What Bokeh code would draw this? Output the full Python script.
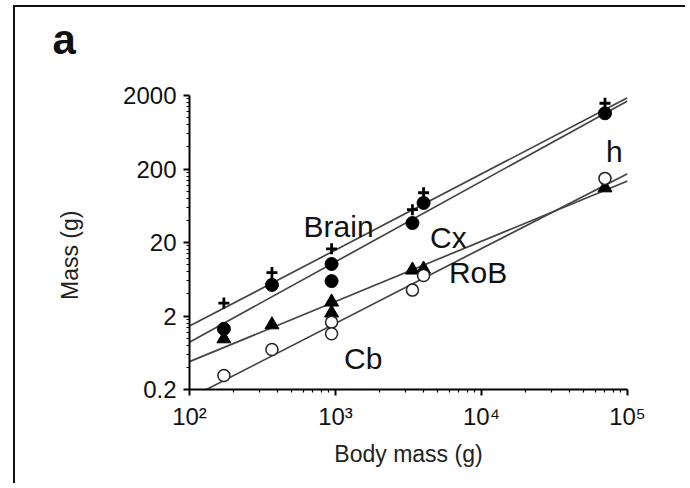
import numpy as np
from bokeh.plotting import figure
from bokeh.models import FixedTicker, Label
from bokeh.embed import file_html
from bokeh.resources import INLINE

# ---- data ----
body_mass = [172, 367, 940, 940, 3365, 4010, 70100]
brain = [3.0, 7.8, 16.4, 10.0, 56, 95, 1570]
cortex = [1.34, 5.3, 10.2, 5.97, 36.8, 69, 1145]
rob = [0.98, 1.52, 3.1, 2.2, 8.45, 8.7, 111]
cerebellum = [0.31, 0.70, 1.65, 1.15, 4.5, 7.1, 149]

# fitted allometric lines: log10(mass) = a + b * log10(body mass)
fit_names = ["Brain", "Cx", "RoB", "Cb"]
fit_intercepts = [-1.906, -2.243, -1.958, -2.853]
fit_slopes = [1.035, 1.094, 0.819, 1.018]
fit_x = [100, 100000]

# text labels (name, x, y)
label_texts = ["Brain", "Cx", "RoB", "h", "Cb"]
label_x = [604, 4436, 5985, 71300, 1143]
label_y = [23.4, 16.7, 5.53, 244, 0.379]

x_ticks = [100, 1000, 10000, 100000]
x_tick_labels = ["10²", "10³", "10⁴", "10⁵"]
y_ticks = [0.2, 2, 20, 200, 2000]
y_tick_labels = ["0.2", "2", "20", "200", "2000"]

FONT = "Liberation Sans"

p = figure(width=672, height=478, x_axis_type="log", y_axis_type="log",
           x_range=(100, 100000), y_range=(0.2, 2000),
           output_backend="svg", toolbar_location=None,
           min_border_left=174, min_border_right=60,
           min_border_top=88, min_border_bottom=96)
p.styles = {"margin-left": "13px", "margin-top": "5px",
            "border-left": "2px solid #111", "border-top": "2px solid #111"}
p.grid.visible = False
p.outline_line_color = None

# panel letter as title (second empty line lifts the letter up in its panel)
p.title.text = "a\n"
p.title.align = "left"
p.title.vertical_align = "top"
p.title.offset = -137
p.title.standoff = 13
p.title.text_line_height = 0.5
p.title.text_font = FONT
p.title.text_font_size = "42px"
p.title.text_font_style = "bold"
p.title.text_color = "#111"

x_minor = [m * 10.0 ** e for e in range(2, 5) for m in range(2, 10)]
y_minor = [0.2 * k * 10.0 ** e for e in range(0, 4) for k in range(2, 10)]
p.xaxis.ticker = FixedTicker(ticks=x_ticks, minor_ticks=x_minor)
p.yaxis.ticker = FixedTicker(ticks=y_ticks, minor_ticks=y_minor)
p.xaxis.major_label_overrides = dict(zip(x_ticks, x_tick_labels))
p.yaxis.major_label_overrides = dict(zip(y_ticks, y_tick_labels))

for ax in (p.xaxis[0], p.yaxis[0]):
    ax.axis_line_width = 2
    ax.axis_line_color = "black"
    ax.major_tick_line_width = 2
    ax.major_tick_out = 6
    ax.major_tick_in = 0
    ax.minor_tick_out = 3
    ax.minor_tick_in = 0
    ax.minor_tick_line_width = 1.2
    ax.major_label_text_font = FONT
    ax.major_label_text_font_size = "24px"
    ax.major_label_text_color = "#111"
    ax.axis_label_text_font = FONT
    ax.axis_label_text_font_style = "normal"
    ax.axis_label_text_font_size = "23px"
    ax.axis_label_text_color = "#222"
p.yaxis.major_label_standoff = 7
p.xaxis.major_label_standoff = 7

p.xaxis.axis_label = "Body mass (g)"
p.xaxis.axis_label_standoff = 8
p.yaxis.axis_label = "Mass (g)" + "\u00a0" * 4
p.yaxis.axis_label_standoff = 37

# fitted lines
xs = np.array(fit_x, dtype=float)
for a, b in zip(fit_intercepts, fit_slopes):
    ys = np.power(10.0, a + b * np.log10(xs))
    p.line(xs, ys, line_color="#444", line_width=1.7)

# markers
p.scatter(body_mass, brain, marker="cross", size=11, line_width=2.8, line_color="black")
p.scatter(body_mass, rob, marker="triangle", size=14, fill_color="black", line_color="black")
p.scatter(body_mass, cerebellum, marker="circle", size=12, fill_color="white",
          line_color="#222", line_width=1.5)
p.scatter(body_mass, cortex, marker="circle", size=13, fill_color="black", line_color="black")

for t, lx, ly in zip(label_texts, label_x, label_y):
    p.add_layout(Label(x=lx, y=ly, y_offset=11, text=t, text_font=FONT, text_font_size="30px",
                       text_color="#111", text_align="left", text_baseline="alphabetic"))

open("out.html", "w").write(file_html(p, INLINE))
